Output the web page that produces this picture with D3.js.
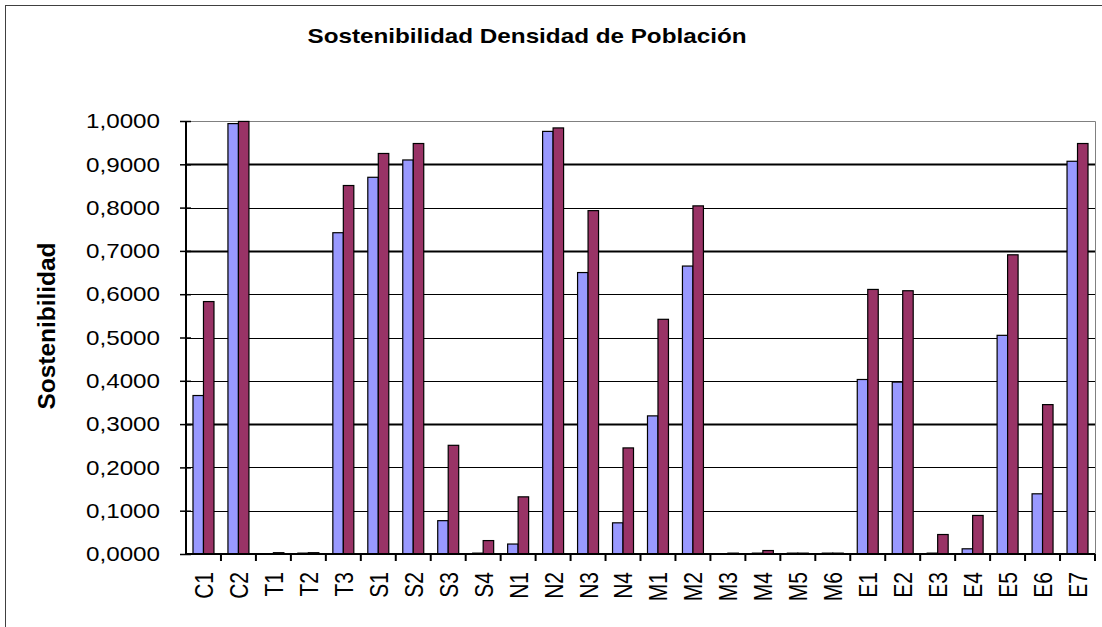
<!DOCTYPE html>
<html>
<head>
<meta charset="utf-8">
<script src="https://cdn.jsdelivr.net/npm/d3@7"></script>
<style>
  body { margin: 0; background: #fff; }
  text { font-family: "Liberation Sans", Arial, sans-serif; fill: #000; }
</style>
</head>
<body>
<svg id="chart" width="1102" height="627"></svg>
<script>
const categories = ["C1", "C2", "T1", "T2", "T3", "S1", "S2", "S3", "S4", "N1", "N2", "N3", "N4",
  "M1", "M2", "M3", "M4", "M5", "M6", "E1", "E2", "E3", "E4", "E5", "E6", "E7"];
const serieA = [0.366, 0.994, 0.000, 0.002, 0.742, 0.870, 0.910, 0.077, 0.002, 0.023, 0.976, 0.650, 0.072,
  0.319, 0.665, 0.000, 0.002, 0.002, 0.002, 0.403, 0.397, 0.002, 0.012, 0.505, 0.139, 0.907];
const serieB = [0.583, 0.999, 0.003, 0.003, 0.851, 0.925, 0.948, 0.251, 0.031, 0.132, 0.984, 0.793, 0.245,
  0.542, 0.804, 0.002, 0.008, 0.002, 0.002, 0.611, 0.608, 0.045, 0.089, 0.691, 0.345, 0.948];
const yTicks = [0, 0.1, 0.2, 0.3, 0.4, 0.5, 0.6, 0.7, 0.8, 0.9, 1.0];
const title = "Sostenibilidad Densidad de Población";
const yTitle = "Sostenibilidad";

var svg = d3.select("#chart");
var plotLeft = 186, plotRight = 1095, plotTop = 121, plotBottom = 554;

// outer chart border
svg.append("rect")
  .attr("x", 5.5).attr("y", 5.5)
  .attr("width", 1110).attr("height", 640)
  .attr("fill", "#fff").attr("stroke", "#404040");

var x = d3.scaleBand().domain(categories).range([plotLeft, plotRight]).paddingInner(0.4).paddingOuter(0.2);
var xs = d3.scaleBand().domain(["a", "b"]).range([0, x.bandwidth()]);
var y = d3.scaleLinear().domain([0, 1]).range([plotBottom, plotTop]);
var color = { a: "#9999ff", b: "#993366" };

// gridlines
svg.append("g").selectAll("line")
  .data(yTicks.filter(d => d > 0 && d < 1))
  .join("line")
  .attr("x1", plotLeft).attr("x2", plotRight)
  .attr("y1", d => Math.round(y(d)) + 0.5).attr("y2", d => Math.round(y(d)) + 0.5)
  .attr("stroke", "#000")
  .attr("stroke-width", d => [0.3, 0.7, 0.9].some(t => Math.abs(t - d) < 1e-6) ? 2 : 1);

// plot area border (top / right)
svg.append("path")
  .attr("d", `M${plotLeft},${Math.round(y(1)) + 0.5}H${plotRight + 0.5}V${plotBottom}`)
  .attr("fill", "none").attr("stroke", "#808080");

// bars
var rows = categories.map((c, i) => ({ cat: c, a: serieA[i], b: serieB[i] }));
var groups = svg.append("g").selectAll("g")
  .data(rows)
  .join("g")
  .attr("transform", d => `translate(${x(d.cat)},0)`);

groups.selectAll("rect")
  .data(d => ["a", "b"].map(k => ({ key: k, value: d[k] })).filter(d => d.value > 0))
  .join("rect")
  .attr("x", d => xs(d.key))
  .attr("y", d => y(d.value))
  .attr("width", xs.bandwidth())
  .attr("height", d => Math.max(0, plotBottom - y(d.value)))
  .attr("fill", d => color[d.key])
  .attr("stroke", "#000")
  .attr("stroke-width", 1.2);

// y axis
var yAxis = svg.append("g")
  .attr("transform", `translate(${plotLeft},0)`)
  .call(d3.axisLeft(y).tickValues(yTicks).tickSize(6).tickPadding(20)
    .tickFormat(d => d.toFixed(4).replace(".", ",")));
yAxis.select(".domain").attr("stroke", "#000").attr("stroke-width", 2).attr("d", `M0,${plotTop}V${plotBottom}`);
yAxis.selectAll(".tick line").attr("x1", -6).attr("x2", 5).attr("stroke-width", 1.5);
yAxis.selectAll(".tick text")
  .style("font-size", "21px")
  .attr("textLength", 74)
  .attr("lengthAdjust", "spacingAndGlyphs");

// x axis
var xAxis = svg.append("g")
  .attr("transform", `translate(0,${plotBottom})`)
  .call(d3.axisBottom(x).tickSize(0).tickPadding(0));
xAxis.select(".domain").attr("stroke", "#000").attr("stroke-width", 2).attr("d", `M${plotLeft},0H${plotRight}`);
xAxis.selectAll(".tick text")
  .style("font-size", "21px")
  .attr("text-anchor", "end")
  .attr("transform", "translate(0,18) scale(1.25,1) rotate(-90)")
  .attr("x", 0).attr("y", 0).attr("dy", "0.36em");

// boundary tick marks between categories
xAxis.append("g").selectAll("line")
  .data(categories)
  .join("line")
  .attr("x1", d => x(d) + x.bandwidth() + x.step() * 0.2)
  .attr("x2", d => x(d) + x.bandwidth() + x.step() * 0.2)
  .attr("y1", 0).attr("y2", 7)
  .attr("stroke", "#000").attr("stroke-width", 2);

// titles
svg.append("text")
  .attr("x", 527).attr("y", 43)
  .attr("text-anchor", "middle")
  .style("font-size", "21px").style("font-weight", "bold")
  .attr("textLength", 439).attr("lengthAdjust", "spacingAndGlyphs")
  .text(title);

svg.append("text")
  .attr("transform", "translate(46,326) scale(1.15,1) rotate(-90)")
  .attr("text-anchor", "middle")
  .attr("dy", "0.36em")
  .style("font-size", "21px").style("font-weight", "bold")
  .attr("textLength", 167).attr("lengthAdjust", "spacingAndGlyphs")
  .text(yTitle);
</script>
</body>
</html>
